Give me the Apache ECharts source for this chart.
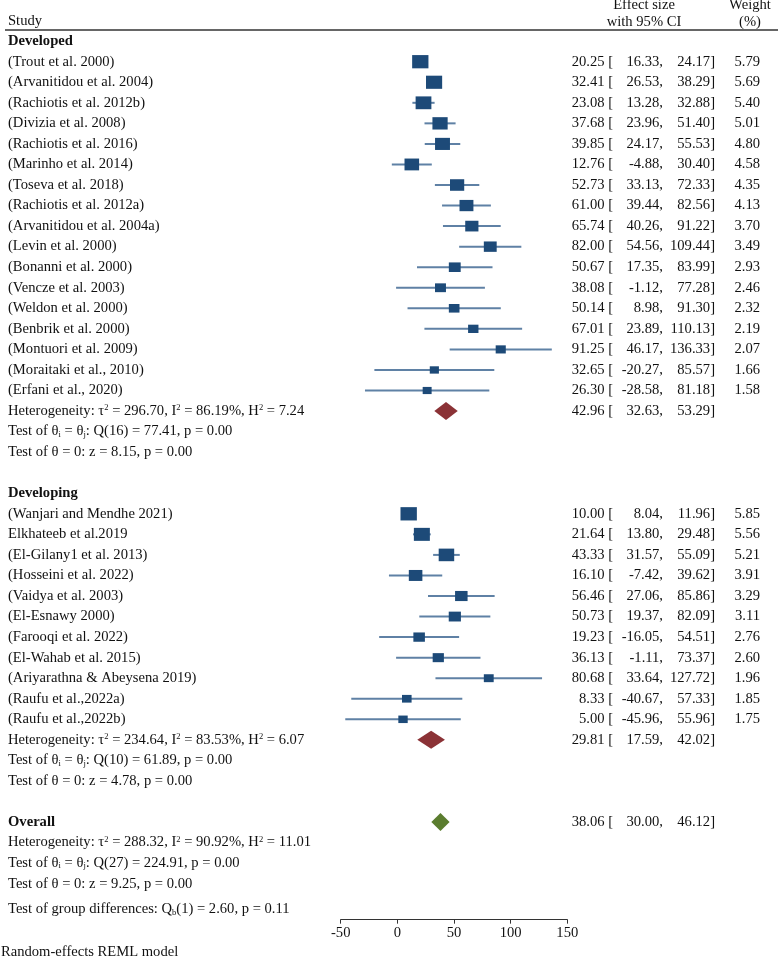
<!DOCTYPE html>
<html><head><meta charset="utf-8">
<script src="https://cdn.jsdelivr.net/npm/echarts/dist/echarts.min.js"></script>
<style>html,body{margin:0;padding:0;background:#fff}#c{width:778px;height:957px}</style>
</head><body><div id="c"></div>
<script>
// ---------- data ----------
const devNames = ['(Trout et al. 2000)','(Arvanitidou et al. 2004)','(Rachiotis et al. 2012b)','(Divizia et al. 2008)','(Rachiotis et al. 2016)','(Marinho et al. 2014)','(Toseva et al. 2018)','(Rachiotis et al. 2012a)','(Arvanitidou et al. 2004a)','(Levin et al. 2000)','(Bonanni et al. 2000)','(Vencze et al. 2003)','(Weldon et al. 2000)','(Benbrik et al. 2000)','(Montuori et al. 2009)','(Moraitaki et al., 2010)','(Erfani et al., 2020)'];
const devES = [20.25,32.41,23.08,37.68,39.85,12.76,52.73,61.00,65.74,82.00,50.67,38.08,50.14,67.01,91.25,32.65,26.30];
const devLo = [16.33,26.53,13.28,23.96,24.17,-4.88,33.13,39.44,40.26,54.56,17.35,-1.12,8.98,23.89,46.17,-20.27,-28.58];
const devHi = [24.17,38.29,32.88,51.40,55.53,30.40,72.33,82.56,91.22,109.44,83.99,77.28,91.30,110.13,136.33,85.57,81.18];
const devW  = [5.79,5.69,5.40,5.01,4.80,4.58,4.35,4.13,3.70,3.49,2.93,2.46,2.32,2.19,2.07,1.66,1.58];
const devSum = [42.96,32.63,53.29];
const devHet = [296.70,86.19,7.24];
const devQ = [16,77.41,0.00];
const devZ = [8.15,0.00];

const dvgNames = ['(Wanjari and Mendhe 2021)','Elkhateeb et al.2019','(El-Gilany1 et al. 2013)','(Hosseini et al. 2022)','(Vaidya et al. 2003)','(El-Esnawy 2000)','(Farooqi et al. 2022)','(El-Wahab et al. 2015)','(Ariyarathna & Abeysena 2019)','(Raufu et al.,2022a)','(Raufu et al.,2022b)'];
const dvgES = [10.00,21.64,43.33,16.10,56.46,50.73,19.23,36.13,80.68,8.33,5.00];
const dvgLo = [8.04,13.80,31.57,-7.42,27.06,19.37,-16.05,-1.11,33.64,-40.67,-45.96];
const dvgHi = [11.96,29.48,55.09,39.62,85.86,82.09,54.51,73.37,127.72,57.33,55.96];
const dvgW  = [5.85,5.56,5.21,3.91,3.29,3.11,2.76,2.60,1.96,1.85,1.75];
const dvgSum = [29.81,17.59,42.02];
const dvgHet = [234.64,83.53,6.07];
const dvgQ = [10,61.89,0.00];
const dvgZ = [4.78,0.00];

const allSum = [38.06,30.00,46.12];
const allHet = [288.32,90.92,11.01];
const allQ = [27,224.91,0.00];
const allZ = [9.25,0.00];
const groupDiff = [1,2.60,0.11];

const groupLabels = ['Developed','Developing','Overall'];
const xTicks = [-50,0,50,100,150];

// ---------- layout ----------
const FONT = '"Liberation Serif","Times New Roman",serif';
const FS = 14.6;
const TXT = '#111';
const f2 = v => v.toFixed(2);
const het = a => `{n|Heterogeneity: τ}{sup|2}{n| = ${f2(a[0])}, I}{sup|2}{n| = ${f2(a[1])}%, H}{sup|2}{n| = ${f2(a[2])}}`;
const tq = a => `{n|Test of θ}{sub|i}{n| = θ}{sub|j}{n|: Q(${a[0]}) = ${f2(a[1])}, p = ${f2(a[2])}}`;
const tz = a => `{n|Test of θ = 0: z = ${f2(a[0])}, p = ${f2(a[1])}}`;

const textRows = [];  // {pos, label, es, lo, hi, w}
const studyData = []; // [es, lo, hi, w, pos]
const diamondData = []; // [es, lo, hi, pos, colorIdx]
let p = 0;
textRows.push({pos:p++, label:`{b|${groupLabels[0]}}`});
devNames.forEach((n,i)=>{ textRows.push({pos:p, label:`{n|${n}}`, es:devES[i], lo:devLo[i], hi:devHi[i], w:devW[i]}); studyData.push([devES[i],devLo[i],devHi[i],devW[i],p]); p++; });
textRows.push({pos:p, label:het(devHet), es:devSum[0], lo:devSum[1], hi:devSum[2]}); diamondData.push([devSum[0],devSum[1],devSum[2],p,0]); p++;
textRows.push({pos:p++, label:tq(devQ)});
textRows.push({pos:p++, label:tz(devZ)});
p++;
textRows.push({pos:p++, label:`{b|${groupLabels[1]}}`});
dvgNames.forEach((n,i)=>{ textRows.push({pos:p, label:`{n|${n}}`, es:dvgES[i], lo:dvgLo[i], hi:dvgHi[i], w:dvgW[i]}); studyData.push([dvgES[i],dvgLo[i],dvgHi[i],dvgW[i],p]); p++; });
textRows.push({pos:p, label:het(dvgHet), es:dvgSum[0], lo:dvgSum[1], hi:dvgSum[2]}); diamondData.push([dvgSum[0],dvgSum[1],dvgSum[2],p,0]); p++;
textRows.push({pos:p++, label:tq(dvgQ)});
textRows.push({pos:p++, label:tz(dvgZ)});
p++;
textRows.push({pos:p, label:`{b|${groupLabels[2]}}`, es:allSum[0], lo:allSum[1], hi:allSum[2]}); diamondData.push([allSum[0],allSum[1],allSum[2],p,1]); p++;
textRows.push({pos:p++, label:het(allHet)});
textRows.push({pos:p++, label:tq(allQ)});
textRows.push({pos:p++, label:tz(allZ)});
textRows.push({pos:p+0.25, label:`{n|Test of group differences: Q}{sub|b}{n|(${groupDiff[0]}) = ${f2(groupDiff[1])}, p = ${f2(groupDiff[2])}}`});

const rich = {
  n:{fontFamily:FONT, fontSize:FS, fill:TXT},
  b:{fontFamily:FONT, fontSize:FS, fontWeight:'bold', fill:TXT},
  sup:{fontFamily:FONT, fontSize:8.5, fill:TXT, verticalAlign:'top'},
  sub:{fontFamily:FONT, fontSize:8.5, fill:TXT, verticalAlign:'bottom'}
};

const COL = {left:8, es:613, lo:663, hi:715, w:760};
const diamondColors = ['#8b3236','#5b7d2f'];

const chart = echarts.init(document.getElementById('c'), null, {renderer:'canvas'});
const txtStyle = (s, x, y, align) => ({type:'text', x, y, style:{text:s, font:`${FS}px ${FONT}`, fill:TXT, align, verticalAlign:'middle'}});

chart.setOption({
  animation:false,
  backgroundColor:'#fff',
  grid:{left:340.7, right:210.7, top:30.88, height:888.79},
  xAxis:{type:'value', min:-50, max:150, interval:50, position:'bottom',
    splitLine:{show:false},
    axisLine:{show:true, onZero:false, lineStyle:{color:'#333', width:1}},
    axisTick:{show:true, length:4, lineStyle:{color:'#333'}},
    axisLabel:{fontFamily:FONT, fontSize:FS, color:TXT, margin:6,
      formatter:v => xTicks.includes(v) ? String(v) : ''}},
  yAxis:{type:'value', inverse:true, min:-0.5, max:42.75, show:false},
  graphic:[
    {type:'text', x:8, y:21, style:{text:'Study', font:`${FS}px ${FONT}`, fill:TXT, align:'left', verticalAlign:'middle'}},
    {type:'text', x:644, y:5, style:{text:'Effect size', font:`${FS}px ${FONT}`, fill:TXT, align:'center', verticalAlign:'middle'}},
    {type:'text', x:644, y:22, style:{text:'with 95% CI', font:`${FS}px ${FONT}`, fill:TXT, align:'center', verticalAlign:'middle'}},
    {type:'text', x:750, y:5, style:{text:'Weight', font:`${FS}px ${FONT}`, fill:TXT, align:'center', verticalAlign:'middle'}},
    {type:'text', x:750, y:22, style:{text:'(%)', font:`${FS}px ${FONT}`, fill:TXT, align:'center', verticalAlign:'middle'}},
    {type:'line', shape:{x1:5, y1:30, x2:778, y2:30}, style:{stroke:'#333', lineWidth:1.5}},
    {type:'text', x:1, y:952, style:{text:'Random-effects REML model', font:`${FS}px ${FONT}`, fill:TXT, align:'left', verticalAlign:'middle'}}
  ],
  series:[
    {type:'custom', name:'studies', data:studyData, clip:false,
      renderItem:(params, api)=>{
        const pos = api.value(4);
        const c = api.coord([api.value(0), pos]);
        const l = api.coord([api.value(1), pos]);
        const h = api.coord([api.value(2), pos]);
        const s = Math.sqrt(api.value(3));
        const bw = 6.4*s + 0.9, bh = 5.3*s + 0.5;
        return {type:'group', children:[
          {type:'line', shape:{x1:l[0], y1:c[1], x2:h[0], y2:c[1]}, style:{stroke:'#5f81a5', lineWidth:2}},
          {type:'rect', shape:{x:c[0]-bw/2, y:c[1]-bh/2, width:bw, height:bh}, style:{fill:'#1d4a78'}}
        ]};
      }},
    {type:'custom', name:'diamonds', data:diamondData, clip:false,
      renderItem:(params, api)=>{
        const pos = api.value(3);
        const c = api.coord([api.value(0), pos]);
        const l = api.coord([api.value(1), pos]);
        const h = api.coord([api.value(2), pos]);
        const hh = 9;
        return {type:'polygon', shape:{points:[[l[0],c[1]],[c[0],c[1]-hh],[h[0],c[1]],[c[0],c[1]+hh]]},
          style:{fill:diamondColors[api.value(4)]}};
      }},
    {type:'custom', name:'text', data:textRows.map(r=>[0, r.pos]), clip:false, silent:true,
      renderItem:(params, api)=>{
        const r = textRows[params.dataIndex];
        const y = api.coord([0, r.pos])[1];
        const ch = [{type:'text', x:COL.left, y, style:{text:r.label, rich, align:'left', verticalAlign:'middle', font:`${FS}px ${FONT}`, fill:TXT}}];
        if (r.es !== undefined) {
          ch.push(txtStyle(`${f2(r.es)} [`, COL.es, y, 'right'));
          ch.push(txtStyle(`${f2(r.lo)},`, COL.lo, y, 'right'));
          ch.push(txtStyle(`${f2(r.hi)}]`, COL.hi, y, 'right'));
        }
        if (r.w !== undefined) ch.push(txtStyle(f2(r.w), COL.w, y, 'right'));
        return {type:'group', children:ch};
      }}
  ]
});
</script></body></html>
